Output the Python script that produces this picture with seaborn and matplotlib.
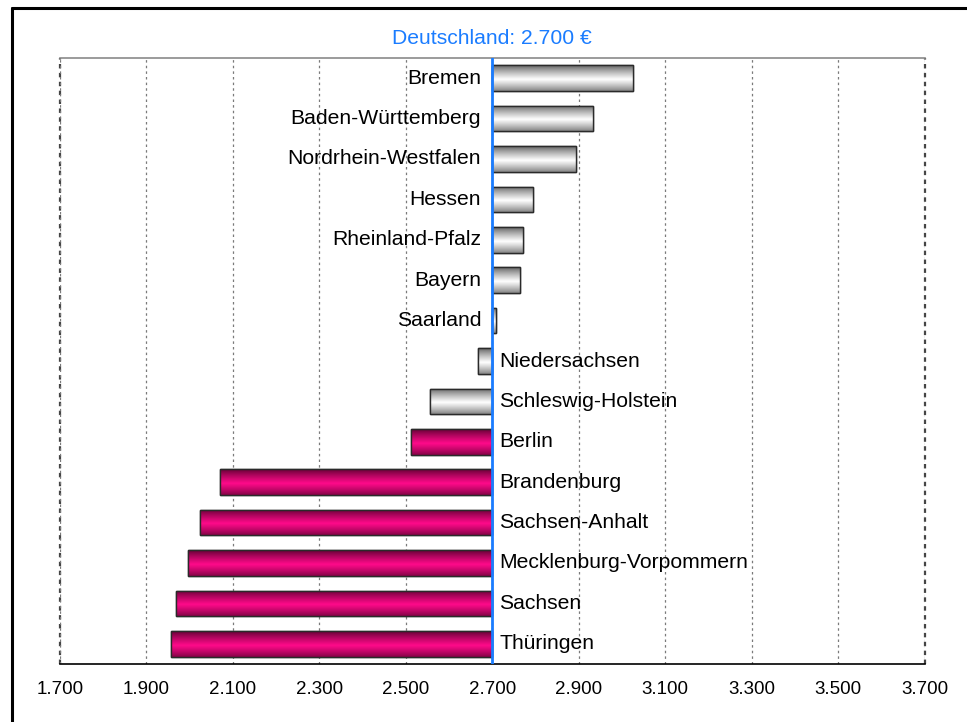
import numpy as np
import pandas as pd
import matplotlib
matplotlib.use("Agg")
import matplotlib.pyplot as plt
import seaborn as sns
from matplotlib.lines import Line2D
from matplotlib.colors import to_rgb
from matplotlib.ticker import FuncFormatter, MultipleLocator

# average income per state (EUR), national value as baseline
states = ["Bremen", "Baden-Württemberg", "Nordrhein-Westfalen", "Hessen",
          "Rheinland-Pfalz", "Bayern", "Saarland", "Niedersachsen",
          "Schleswig-Holstein", "Berlin", "Brandenburg", "Sachsen-Anhalt",
          "Mecklenburg-Vorpommern", "Sachsen", "Thüringen"]
values = [3025, 2933, 2893, 2794, 2771, 2765, 2708, 2668,
          2557, 2513, 2069, 2025, 1996, 1968, 1957]
east = ["Berlin", "Brandenburg", "Sachsen-Anhalt",
        "Mecklenburg-Vorpommern", "Sachsen", "Thüringen"]
national = 2700
xmin, xmax = 1700, 3700

df = pd.DataFrame({"state": states, "value": values})
df["diff"] = df["value"] - national
df["group"] = np.where(df["state"].isin(east), "ost", "west")

sns.set_style("white")
plt.rcParams["font.family"] = ["Liberation Sans", "DejaVu Sans"]
plt.rcParams["text.color"] = "black"
plt.rcParams["xtick.color"] = "black"

fig = plt.figure(figsize=(9.67, 7.22), dpi=100)
ax = fig.add_axes([60 / 967, 1 - 664 / 722, 864.5 / 967, 606 / 722])

sns.barplot(data=df, x="diff", y="state", hue="group", dodge=False,
            palette={"west": "#d0d0d0", "ost": "#ff0080"}, width=0.63,
            saturation=1, legend=False, ax=ax, edgecolor="#2a2a2a",
            linewidth=1.0)

# cylinder-like shading for each bar
t = np.linspace(0, 1, 64)
shade = np.clip(1 - np.abs(t - 0.55) / 0.55, 0, 1) ** 0.8
grey_dark, grey_light = np.array(to_rgb("#5a5a5a")), np.array(to_rgb("#ffffff"))
pink_dark, pink_light = np.array(to_rgb("#5c0030")), np.array(to_rgb("#ff0a8a"))
for patch in ax.patches:
    b = patch.get_bbox()
    if b.width == 0:
        continue
    idx = int(round((b.y0 + b.y1) / 2))
    pink = df["group"].iloc[idx] == "ost"
    dark, light = (pink_dark, pink_light) if pink else (grey_dark, grey_light)
    grad = dark[None, :] + (light - dark)[None, :] * shade[:, None]
    img = ax.imshow(grad[:, None, :], extent=(b.x0, b.x1, b.y0, b.y1),
                    origin="lower", aspect="auto", zorder=patch.get_zorder() + 0.1,
                    interpolation="bilinear")
    img.set_clip_path(patch)
    outline = plt.Rectangle((b.x0, b.y0), b.width, b.height, fill=False,
                            edgecolor="#2a2a2a", linewidth=1.0,
                            zorder=patch.get_zorder() + 0.2)
    ax.add_patch(outline)

ax.set_xlim(xmin - national, xmax - national)
ax.set_ylim(len(states) - 0.5, -0.5)

ax.xaxis.set_major_locator(MultipleLocator(200))
ax.xaxis.set_major_formatter(
    FuncFormatter(lambda v, p: f"{v + national:,.0f}".replace(",", ".")))
ax.tick_params(axis="x", direction="out", length=6, width=1, color="black",
               labelcolor="black", labelsize=13.5, pad=6)
ax.set_xlabel("")
ax.set_ylabel("")

ax.grid(axis="x", color="#7a7a7a", linestyle=(0, (2, 2.5)), linewidth=0.9)
ax.set_axisbelow(True)
# darker dashed edges at both ends of the scale
for edge in (xmin - national, xmax - national):
    ax.axvline(edge, color="#444444", linestyle=(0, (2, 2)), linewidth=1.6,
               zorder=0.5, clip_on=False)

ax.spines["left"].set_position(("data", 0))
ax.spines["left"].set_visible(False)
ax.spines["right"].set_visible(False)
ax.spines["top"].set_color("#8a8a8a")
ax.spines["top"].set_linewidth(1.2)
ax.spines["bottom"].set_color("black")
ax.spines["bottom"].set_linewidth(1.2)

ax.set_yticks(np.arange(-0.5, len(states), 1))
ax.set_yticklabels([])
ax.tick_params(axis="y", direction="out", length=5, width=1, color="#333333")

ax.axvline(0, color="#1a7cff", linewidth=2, zorder=5)

for i, (s, d) in enumerate(zip(df["state"], df["diff"])):
    if d >= 0:
        ax.annotate(s, (0, i), xytext=(-8, 0), textcoords="offset points",
                    ha="right", va="center", fontsize=15.2, color="black")
    else:
        ax.annotate(s, (0, i), xytext=(5, 0), textcoords="offset points",
                    ha="left", va="center", fontsize=15.2, color="black")

ax.annotate("Deutschland: 2.700 €", (0, 1), xycoords=("data", "axes fraction"),
            xytext=(0, 7), textcoords="offset points", ha="center", va="bottom",
            color="#1a7cff", fontsize=15.2)

# frame around the figure (cut off at the right and bottom)
fig.add_artist(Line2D([12 / 967, 1], [1 - 7.5 / 722] * 2,
                      transform=fig.transFigure, color="black", linewidth=2.2))
fig.add_artist(Line2D([12 / 967] * 2, [0, 1 - 7.5 / 722],
                      transform=fig.transFigure, color="black", linewidth=2.2))

fig.savefig("out.png", dpi=100)
